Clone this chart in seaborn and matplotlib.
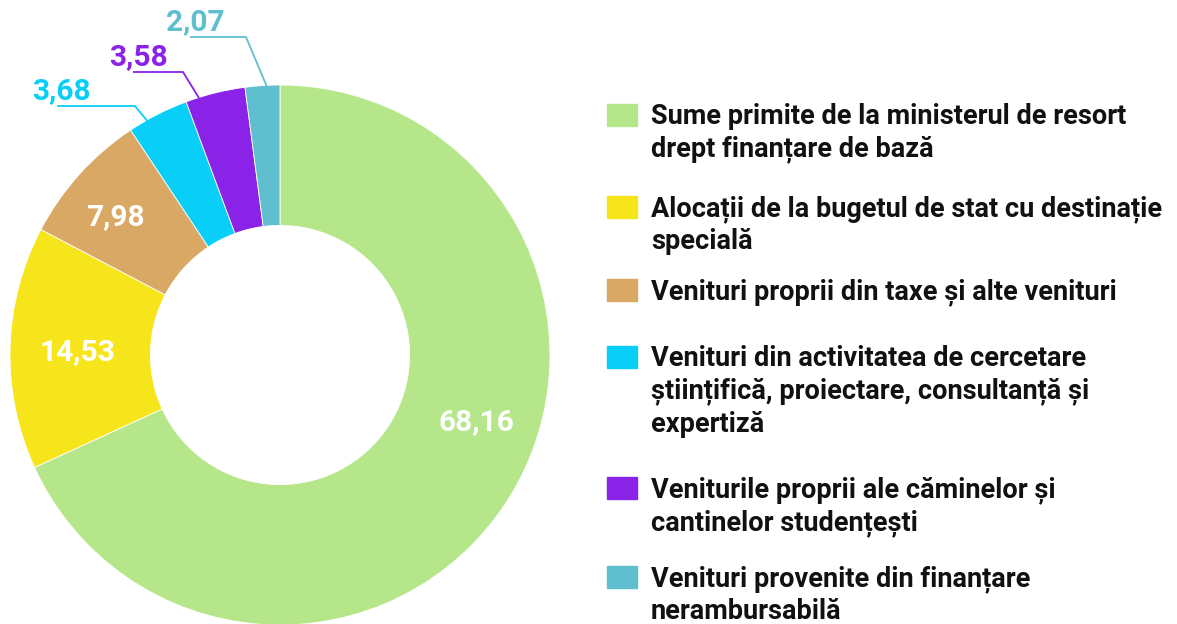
import matplotlib
matplotlib.use("Agg")
import matplotlib.pyplot as plt
import numpy as np
import seaborn as sns
from matplotlib.patches import Rectangle

# Structure of university revenues (percent)
categories = [
    "Sume primite de la ministerul de resort\ndrept finanțare de bază",
    "Alocații de la bugetul de stat cu destinație\nspecială",
    "Venituri proprii din taxe și alte venituri",
    "Venituri din activitatea de cercetare\nștiințifică, proiectare, consultanță și\nexpertiză",
    "Veniturile proprii ale căminelor și\ncantinelor studențești",
    "Venituri provenite din finanțare\nnerambursabilă",
]
values = [68.16, 14.53, 7.98, 3.68, 3.58, 2.07]
value_labels = ["68,16", "14,53", "7,98", "3,68", "3,58", "2,07"]
colors = ["#b5e68a", "#f7e51c", "#d9a864", "#09cff8", "#8b22e8", "#5fbfcf"]

sns.set_theme(style="white")
plt.rcParams["font.family"] = ["Roboto", "DejaVu Sans"]

W, H = 1177, 624
fig = plt.figure(figsize=(W / 100, H / 100), dpi=100)

# donut: centre (280, 355) px, outer radius 270 px
cx, cy, R = 280, 355, 270
ax = fig.add_axes([(cx - R) / W, (H - cy - R) / H, 2 * R / W, 2 * R / H])

wedges, _ = ax.pie(
    values, colors=colors, startangle=90, counterclock=False, radius=1.0,
    wedgeprops=dict(width=0.52, edgecolor="white", linewidth=0.6),
)
ax.set_xlim(-1, 1)
ax.set_ylim(-1, 1)
ax.set_aspect("equal")
ax.axis("off")


def px(x, y):
    """pixel position -> data coordinates of the donut axes"""
    return (x - cx) / R, (cy - y) / R


# values inside the ring
mid_angles = [(w.theta1 + w.theta2) / 2 for w in wedges]
inside = {0: px(476, 422)}
for i, r in ((1, 0.75), (2, 0.78)):
    a = np.deg2rad(mid_angles[i])
    inside[i] = (r * np.cos(a) - (0.03 if i == 2 else 0), r * np.sin(a) - 0.01)
for i, (x, y) in inside.items():
    ax.text(x, y, value_labels[i], color="white", fontsize=21.5, fontweight="bold",
            ha="center", va="center", clip_on=False)

# small slices: leader lines with labels above them
leaders = {
    3: dict(start=px(57, 106), elbow=px(135, 106), end=px(149, 123), text=px(61, 105)),
    4: dict(start=px(133, 72), elbow=px(183, 72), end=px(199, 98), text=px(138, 71)),
    5: dict(start=px(190, 37), elbow=px(246, 37), end=px(267, 87), text=px(195, 36)),
}
for i, d in leaders.items():
    xs = [d["start"][0], d["elbow"][0], d["end"][0]]
    ys = [d["start"][1], d["elbow"][1], d["end"][1]]
    ax.plot(xs, ys, color=colors[i], lw=1.3, clip_on=False, solid_capstyle="butt")
    ax.text(d["text"][0], d["text"][1], value_labels[i], color=colors[i], fontsize=21.5,
            fontweight="bold", ha="center", va="bottom", clip_on=False)

# legend
legend_tops = [115, 207, 290, 357, 488, 577]
for i, (lab, yc) in enumerate(zip(categories, legend_tops)):
    fig.patches.append(Rectangle((607 / W, (H - yc - 11) / H), 30 / W, 22 / H,
                                 transform=fig.transFigure, color=colors[i]))
    fig.text(651 / W, (H - yc + 12) / H, lab, fontsize=19.5, fontweight="bold",
             color="#111111", ha="left", va="top", linespacing=1.26)

fig.savefig("out.png", dpi=100)
